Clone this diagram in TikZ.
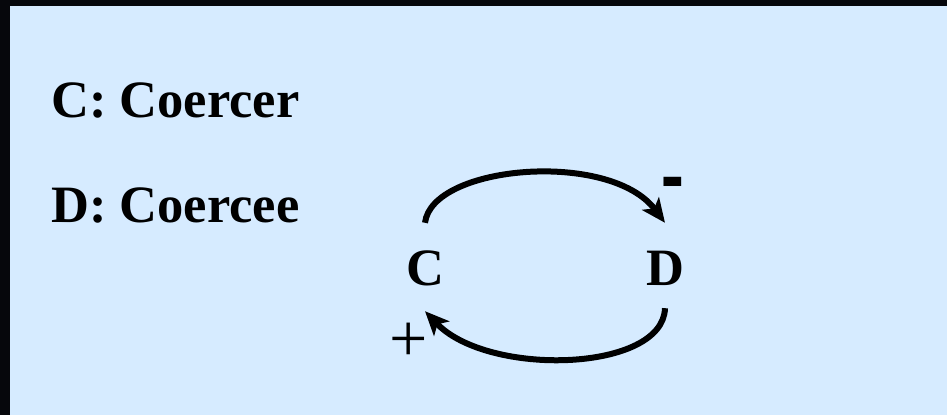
\documentclass[tikz,border=0pt]{standalone}
\usepackage{fontspec}
\setmainfont{Liberation Serif}
\usepackage{tikz}
\usetikzlibrary{arrows.meta}

\definecolor{slidebg}{RGB}{214,235,255}
\definecolor{slideframe}{RGB}{6,7,12}

\begin{document}
\begin{tikzpicture}[x=1pt,y=-1pt,
  bigtext/.style={font=\fontsize{52.5}{60}\selectfont\bfseries, inner sep=0pt},
  agent/.style={font=\fontsize{52.5}{60}\selectfont\bfseries, minimum height=90pt, inner sep=0pt},
  loop/.style={line width=6pt, -{Stealth[length=24pt,width=21pt,inset=6pt]}}]

% Frame and slide
\fill[slideframe] (0,0) rectangle (947,415);
\fill[slidebg] (10,6) rectangle (947,415);
\useasboundingbox (0,0) rectangle (947,415);

% Legend
\node[bigtext, anchor=base west] (legc) at (51,117) {C: Coercer};
\node[bigtext, anchor=base west] (legd) at (51,222) {D: Coercee};

% The two agents
\node[agent] (C) at (425,268) {C};
\node[agent] (D) at (665,268) {D};

% Feedback loop
\draw[loop] (C.north) .. controls +(7,-58) and +(-55,-73) .. (D.north);
\draw[loop] ([yshift=5pt]D.south) .. controls +(-2,64) and +(63,66) .. ([yshift=2pt]C.south);

% Signs
\node[font=\fontsize{68}{68}\selectfont\bfseries, inner sep=0pt] (minus) at (673,192) {\scalebox{1}[1.6]{-}};
\node[font=\fontsize{68}{68}\selectfont, inner sep=0pt] (plus) at (409,342) {+};

\end{tikzpicture}
\end{document}
